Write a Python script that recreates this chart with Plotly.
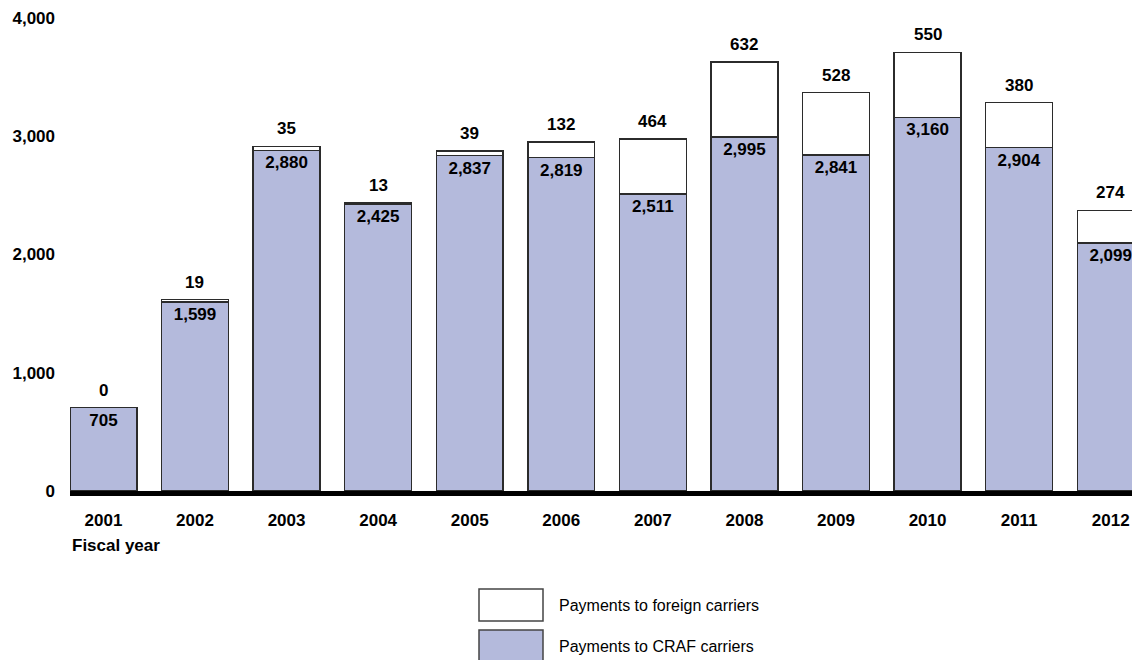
import plotly.graph_objects as go

years = ["2001", "2002", "2003", "2004", "2005", "2006",
         "2007", "2008", "2009", "2010", "2011", "2012"]
craf = [705, 1599, 2880, 2425, 2837, 2819, 2511, 2995, 2841, 3160, 2904, 2099]
foreign = [0, 19, 35, 13, 39, 132, 464, 632, 528, 550, 380, 274]

FONT = "Liberation Sans, Arial, sans-serif"
BLUE = "#B4BADC"
EDGE = "#2b2b2b"
BOLD = dict(family=FONT, size=17, color="black", weight="bold")

# the page body adds an 8px offset, so the figure is 8px smaller
W, H = 1132, 652
ML, MT, MB = 62, 10, 169
PLOT_W, PLOT_H = W - ML, H - MT - MB
X0, Y0 = 8 + ML, 8 + MT + PLOT_H   # page pixels of plot's left / bottom edge

fig = go.Figure()

fig.add_trace(go.Bar(
    x=years, y=craf, name="Payments to CRAF carriers",
    marker=dict(color=BLUE, line=dict(color=EDGE, width=1.5)),
    text=[f"{v:,}" for v in craf],
    textposition="inside", insidetextanchor="end",
    textfont=BOLD,
    width=0.73,
))
fig.add_trace(go.Bar(
    x=years, y=foreign, name="Payments to foreign carriers",
    marker=dict(color="white", line=dict(color=EDGE, width=1.5)),
    width=0.73,
))

# foreign totals written above each stack
for i, (c, f) in enumerate(zip(craf, foreign)):
    fig.add_annotation(
        x=i, y=c + f, text=f"{f:,}", showarrow=False,
        yanchor="bottom", yshift=6, font=BOLD,
    )

fig.add_annotation(
    xref="paper", yref="paper", x=0, y=(Y0 - 545) / PLOT_H,
    xanchor="left", yanchor="middle",
    text="Fiscal year", showarrow=False, font=BOLD,
)

# legend drawn by hand, boxes as in the original
legend_items = [("Payments to foreign carriers", "white"),
                ("Payments to CRAF carriers", BLUE)]
for i, (label, col) in enumerate(legend_items):
    top = 589 + i * 41
    fig.add_shape(
        type="rect", xref="paper", yref="paper",
        x0=(479 - X0) / PLOT_W, x1=(543 - X0) / PLOT_W,
        y0=(Y0 - top - 32) / PLOT_H, y1=(Y0 - top) / PLOT_H,
        fillcolor=col, line=dict(color="#444444", width=1.5),
    )
    fig.add_annotation(
        xref="paper", yref="paper", x=(557 - X0) / PLOT_W,
        y=(Y0 - top - 16) / PLOT_H,
        xanchor="left", yanchor="middle", text=label, showarrow=False,
        font=dict(family=FONT, size=16, color="black"),
    )

fig.update_layout(
    barmode="stack",
    width=W, height=H,
    margin=dict(l=ML, r=0, t=MT, b=MB),
    plot_bgcolor="white", paper_bgcolor="white",
    showlegend=False,
    xaxis=dict(
        type="category",
        range=[-0.365, 11.32],
        showline=True, linecolor="black", linewidth=5,
        ticks="", showgrid=False,
        tickfont=BOLD,
        ticklabelstandoff=10,
    ),
    yaxis=dict(
        range=[0, 4000], tickvals=[0, 1000, 2000, 3000, 4000],
        tickformat=",", showgrid=False, zeroline=False, showline=False,
        tickfont=BOLD,
        ticklabelstandoff=14,
    ),
)

fig.write_html("out.html")
